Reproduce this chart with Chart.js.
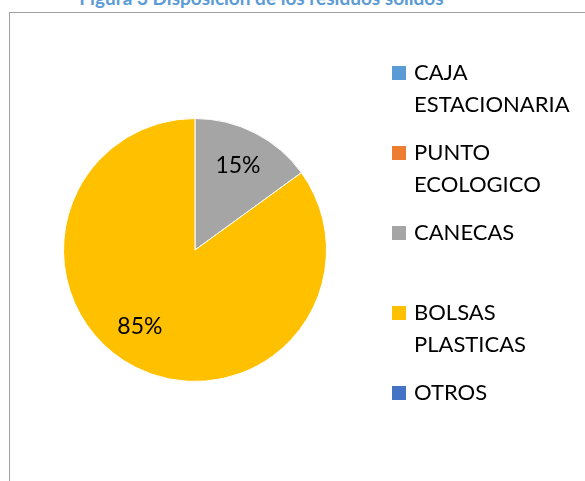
<!DOCTYPE html>
<html>
<head>
<meta charset="utf-8">
<script src="https://cdn.jsdelivr.net/npm/chart.js@4/dist/chart.umd.min.js"></script>
<style>
  body { margin: 0; background: #fff; overflow: hidden; }
  #wrap { position: relative; width: 585px; height: 481px; }
  #frame { position: absolute; left: 9px; top: 12px; width: 600px; height: 500px; border: 1px solid #a0a0a0; box-sizing: border-box; }
  #title { position: absolute; left: 0; width: 523px; top: -14px; text-align: center;
           font: bold 19px Lato, sans-serif; color: #5b9bd5; white-space: nowrap; }
  canvas { position: absolute; left: 0; top: 0; }
</style>
</head>
<body>
<div id="wrap">
  <div id="frame"></div>
  <div id="title">Figura 3 Disposición de los residuos sólidos</div>
  <canvas id="myChart" width="585" height="481"></canvas>
</div>
<script>
var labels = ["CAJA ESTACIONARIA", "PUNTO ECOLOGICO", "CANECAS", "BOLSAS PLASTICAS", "OTROS"];
var values = [0, 0, 15, 85, 0];
var colors = ["#5b9bd5", "#ed7d31", "#a5a5a5", "#ffc000", "#4472c4"];

// legend lines, wrapped like the original
var legendLines = [["CAJA", "ESTACIONARIA"], ["PUNTO", "ECOLOGICO"], ["CANECAS"], ["BOLSAS", "PLASTICAS"], ["OTROS"]];
var legendTops = [73, 153, 233, 313, 393];

var legendFont = "22px Lato, sans-serif";
var pctFont = "23px Lato, sans-serif";

// percent labels inside the slices
var sliceLabels = {
  id: "sliceLabels",
  afterDatasetsDraw: function(chart) {
    var ctx = chart.ctx;
    var meta = chart.getDatasetMeta(0);
    var total = values.reduce(function(a, b) { return a + b; }, 0);
    ctx.save();
    ctx.font = pctFont;
    ctx.fillStyle = "#000";
    ctx.textAlign = "center";
    ctx.textBaseline = "middle";
    meta.data.forEach(function(arc, i) {
      if (!values[i]) return;
      var p = arc.getProps(["x", "y", "startAngle", "endAngle", "outerRadius"], true);
      var mid = (p.startAngle + p.endAngle) / 2;
      // big slices: excel nudges the label a bit further round
      if (values[i] / total > 0.5) mid += 0.15;
      var r = p.outerRadius * 0.72;
      ctx.fillText(Math.round(values[i] / total * 100) + "%", p.x + Math.cos(mid) * r, p.y + Math.sin(mid) * r);
    });
    ctx.restore();
  }
};

// legend on the right
var sideLegend = {
  id: "sideLegend",
  afterDraw: function(chart) {
    var ctx = chart.ctx;
    ctx.save();
    ctx.font = legendFont;
    ctx.textBaseline = "middle";
    labels.forEach(function(l, i) {
      var y = legendTops[i];
      ctx.fillStyle = colors[i];
      ctx.fillRect(392, y - 7, 14, 14);
      ctx.fillStyle = "#000";
      legendLines[i].forEach(function(line, j) {
        ctx.fillText(line, 414, y + j * 32);
      });
    });
    ctx.restore();
  }
};

var ctx = document.getElementById("myChart").getContext("2d");
var myChart = new Chart(ctx, {
  type: "pie",
  data: {
    labels: labels,
    datasets: [{
      data: values,
      backgroundColor: colors,
      borderColor: "#fff",
      borderWidth: 1
    }]
  },
  options: {
    responsive: false,
    animation: false,
    layout: { padding: { left: 63, right: 258, top: 118, bottom: 99 } },
    plugins: {
      legend: { display: false },
      tooltip: { enabled: false }
    }
  },
  plugins: [sliceLabels, sideLegend]
});
</script>
</body>
</html>
